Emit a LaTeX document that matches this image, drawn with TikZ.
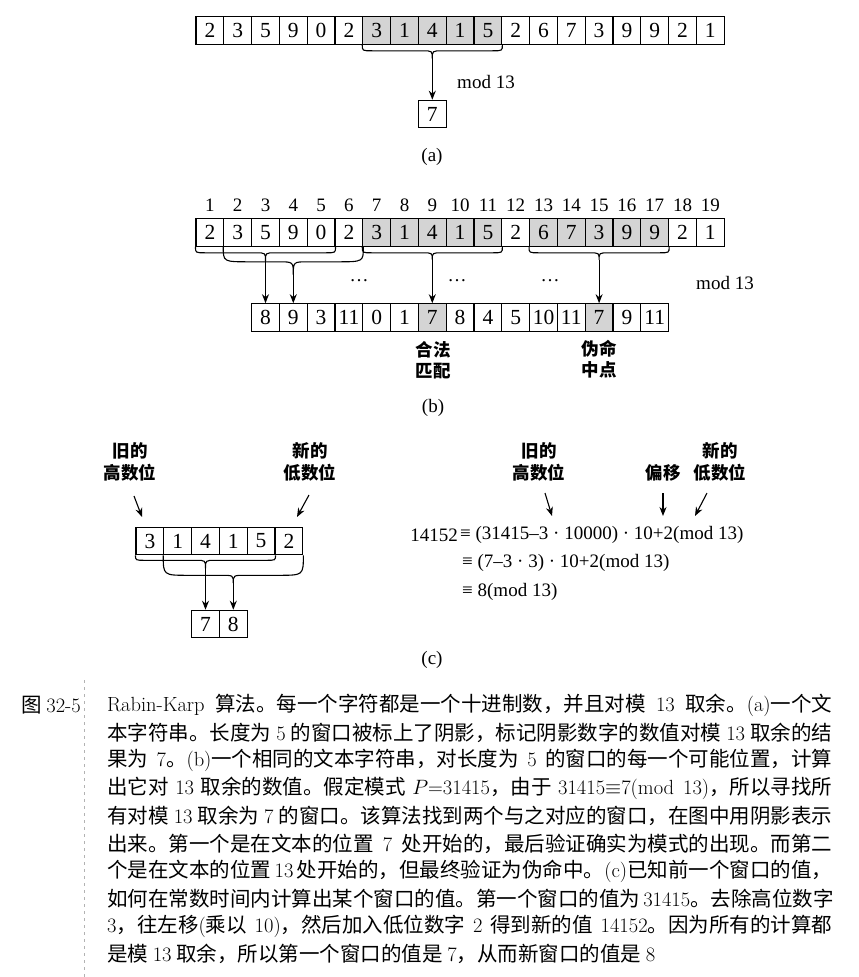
\documentclass[tikz,border=0pt]{standalone}
\usepackage{fontspec}
\newfontfamily\tms{Liberation Serif}
\newfontfamily\cjk{Noto Sans CJK SC}
\usetikzlibrary{arrows.meta,calc}
\XeTeXlinebreaklocale "zh"
\XeTeXlinebreakskip=0pt plus 3pt minus 0.5pt
\newcommand\lt[1]{{\rmfamily #1}}
% window brace: left anchor, right anchor, tip name, h1, h2, arm radius, tip radius
\newcommand\winbrace[7]{%
  \draw[bracestyle] let \p1=(#1), \p2=(#2), \n1={(\x1+\x2)/2} in
   (\p1) .. controls (\x1,\y1-#4) .. (\x1+#6,\y1-#4)
   -- (\n1-#7,\y1-#4) .. controls (\n1,\y1-#4) .. (\n1,\y1-#5) coordinate (#3)
   .. controls (\n1,\y1-#4) .. (\n1+#7,\y1-#4)
   -- (\x2-#6,\y1-#4) .. controls (\x2,\y1-#4) .. (\p2);}
\tikzset{
  cell/.style={draw, line width=1.1pt, minimum width=27.8pt, minimum height=27.5pt,
    inner sep=0pt, font=\tms\fontsize{21.5}{21.5}\selectfont},
  plainC/.style={fill=white},
  shadeC/.style={fill=black!17},
  idx/.style={inner sep=0pt, font=\tms\fontsize{19}{19}\selectfont},
  lab/.style={inner sep=0pt, font=\tms\fontsize{19}{19}\selectfont},
  zhlab/.style={inner sep=0pt, align=center, font=\cjk\bfseries\fontsize{17.5}{21.5}\selectfont},
  bracestyle/.style={line width=1.1pt},
  arr/.style={line width=1.1pt, -{Stealth[length=9pt,width=7pt]}},
  captext/.style={anchor=west, inner sep=0pt, font=\cjk\fontsize{20.5}{20.5}\selectfont},
}
\begin{document}
\begin{tikzpicture}[x=1pt,y=1pt]
\useasboundingbox (0,0) rectangle (859,-977);
\fill[white] (0,0) rectangle (859,-977);

% ---------------- (a)
\foreach \v/\f [count=\i] in {2/plainC,3/plainC,5/plainC,9/plainC,0/plainC,2/plainC,3/shadeC,1/shadeC,4/shadeC,1/shadeC,5/shadeC,2/plainC,6/plainC,7/plainC,3/plainC,9/plainC,9/plainC,2/plainC,1/plainC}
  \node[cell,\f] (a\i) at ({196+27.8*(\i-0.5)},-30.5) {\v};
\winbrace{a7.south west}{a11.south east}{ta}{6}{14}{10}{10}
\node[cell] (ar) at (432.3,-114) {7};
\draw[arr] (ta) -- (ta |- ar.north);
\node[lab] (amod) at (486,-82) {mod 13};
\node[lab] (la) at (432,-157) {(a)};

% ---------------- (b)
\foreach \i in {1,...,19}
  \node[idx] (n\i) at ({196+27.8*(\i-0.5)},-205) {\i};
\foreach \v/\f [count=\i] in {2/plainC,3/plainC,5/plainC,9/plainC,0/plainC,2/plainC,3/shadeC,1/shadeC,4/shadeC,1/shadeC,5/shadeC,2/plainC,6/shadeC,7/shadeC,3/shadeC,9/shadeC,9/shadeC,2/plainC,1/plainC}
  \node[cell,\f] (b\i) at ({196+27.8*(\i-0.5)},-232.5) {\v};
\foreach \v/\f [count=\i] in {8/plainC,9/plainC,3/plainC,11/plainC,0/plainC,1/plainC,7/shadeC,8/plainC,4/plainC,5/plainC,10/plainC,11/plainC,7/shadeC,9/plainC,11/plainC}
  \node[cell,\f] (r\i) at ({251.6+27.8*(\i-0.5)},-317.5) {\v};
\winbrace{b1.south west}{b5.south east}{tb1}{6}{14}{10}{10}
\winbrace{b2.south west}{b6.south east}{tb2}{15}{28}{26}{15}
\winbrace{b7.south west}{b11.south east}{tb7}{6}{13}{10}{10}
\winbrace{b13.south west}{b17.south east}{tb13}{6}{13}{10}{10}
\draw[arr] (tb1) -- (tb1 |- r1.north);
\draw[arr] (tb2) -- (tb2 |- r2.north);
\draw[arr] (tb7) -- (tb7 |- r7.north);
\draw[arr] (tb13) -- (tb13 |- r13.north);
\node[lab] (dots1) at (359,-281) {\dots};
\node[lab] (dots2) at (457,-281) {\dots};
\node[lab] (dots3) at (550,-281) {\dots};
\node[lab] (bmod) at (725,-283) {mod 13};
\node[zhlab] (legal) at (433,-360) {合法\\匹配};
\node[zhlab] (spur) at (599,-359) {伪命\\中点};
\node[lab] (lb) at (433,-408) {(b)};

% ---------------- (c) left
\foreach \v [count=\i] in {3,1,4,1,5,2}
  \node[cell] (c\i) at ({136+27.8*(\i-0.5)},-541) {\v};
\node[cell] (d1) at (205.5,-624) {7};
\node[cell] (d2) at (233.3,-624) {8};
\winbrace{c1.south west}{c5.south east}{tc1}{5}{13}{10}{10}
\winbrace{c2.south west}{c6.south east}{tc2}{20}{28}{25}{12}
\draw[arr] (tc1) -- (tc1 |- d1.north);
\draw[arr] (tc2) -- (tc2 |- d2.north);
\node[zhlab] (oldL) at (130,-462) {旧的\\高数位};
\node[zhlab] (newL) at (310,-462) {新的\\低数位};
\coordinate (oLs) at (134,-496);
\coordinate (oLe) at (142,-517);
\coordinate (nLs) at (309,-495);
\coordinate (nLe) at (297,-517);
\draw[arr] (oLs) -- (oLe);
\draw[arr] (nLs) -- (nLe);

% ---------------- (c) right
\node[zhlab] (oldR) at (539,-462) {旧的\\高数位};
\node[zhlab] (shiftR) at (663,-473) {偏移};
\node[zhlab] (newR) at (720,-462) {新的\\低数位};
\coordinate (oRs) at (545,-493);
\coordinate (oRe) at (552,-516);
\coordinate (sRs) at (663,-493);
\coordinate (sRe) at (663,-516);
\coordinate (nRs) at (707,-493);
\coordinate (nRe) at (695,-516);
\draw[arr] (oRs) -- (oRe);
\draw[arr] (sRs) -- (sRe);
\draw[arr] (nRs) -- (nRe);
\node[lab, anchor=east] (e0) at (458,-535) {14152};
\node[lab, anchor=west] (e1) at (460,-535) {≡ (31415–3 · 10000) · 10+2(mod 13)};
\node[lab, anchor=west] (e2) at (462,-563) {≡ (7–3 · 3) · 10+2(mod 13)};
\node[lab, anchor=west] (e3) at (462,-592) {≡ 8(mod 13)};
\node[lab] (lc) at (432,-660) {(c)};

% ---------------- caption
\draw[black!30, line width=0.6pt, dash pattern=on 3pt off 4pt] (84,-680) -- (84,-977);
\node[captext, anchor=east] (capT) at (81,-705) {图 \lt{32-5}};
\node[captext] (c1) at (107,-705) {\hbox to 725pt{\lt{Rabin-Karp} 算法。每一个字符都是一个十进制数，并且对模 \lt{13} 取余。\lt{(a)}一个文}};
\node[captext] (c2) at (107,-732.7) {\hbox to 725pt{本字符串。长度为 \lt{5} 的窗口被标上了阴影，标记阴影数字的数值对模 \lt{13} 取余的结}};
\node[captext] (c3) at (107,-760.4) {\hbox to 725pt{果为 \lt{7}。\lt{(b)}一个相同的文本字符串，对长度为 \lt{5} 的窗口的每一个可能位置，计算}};
\node[captext] (c4) at (107,-788.1) {\hbox to 725pt{出它对 \lt{13} 取余的数值。假定模式 \lt{$P$=31415}，由于 \lt{31415$\equiv$7(mod 13)}，所以寻找所}};
\node[captext] (c5) at (107,-815.8) {\hbox to 725pt{有对模 \lt{13} 取余为 \lt{7} 的窗口。该算法找到两个与之对应的窗口，在图中用阴影表示}};
\node[captext] (c6) at (107,-843.5) {\hbox to 725pt{出来。第一个是在文本的位置 \lt{7} 处开始的，最后验证确实为模式的出现。而第二}};
\node[captext] (c7) at (107,-871.2) {\hbox to 725pt{个是在文本的位置 \lt{13} 处开始的，但最终验证为伪命中。\lt{(c)}已知前一个窗口的值，}};
\node[captext] (c8) at (107,-898.9) {\hbox to 725pt{如何在常数时间内计算出某个窗口的值。第一个窗口的值为 \lt{31415}。去除高位数字}};
\node[captext] (c9) at (107,-926.6) {\hbox to 725pt{\lt{3}，往左移\lt{(}乘以 \lt{10)}，然后加入低位数字 \lt{2} 得到新的值 \lt{14152}。因为所有的计算都}};
\node[captext] (c10) at (107,-954.3) {是模 \lt{13} 取余，所以第一个窗口的值是 \lt{7}，从而新窗口的值是 \lt{8}};
\end{tikzpicture}
\end{document}
